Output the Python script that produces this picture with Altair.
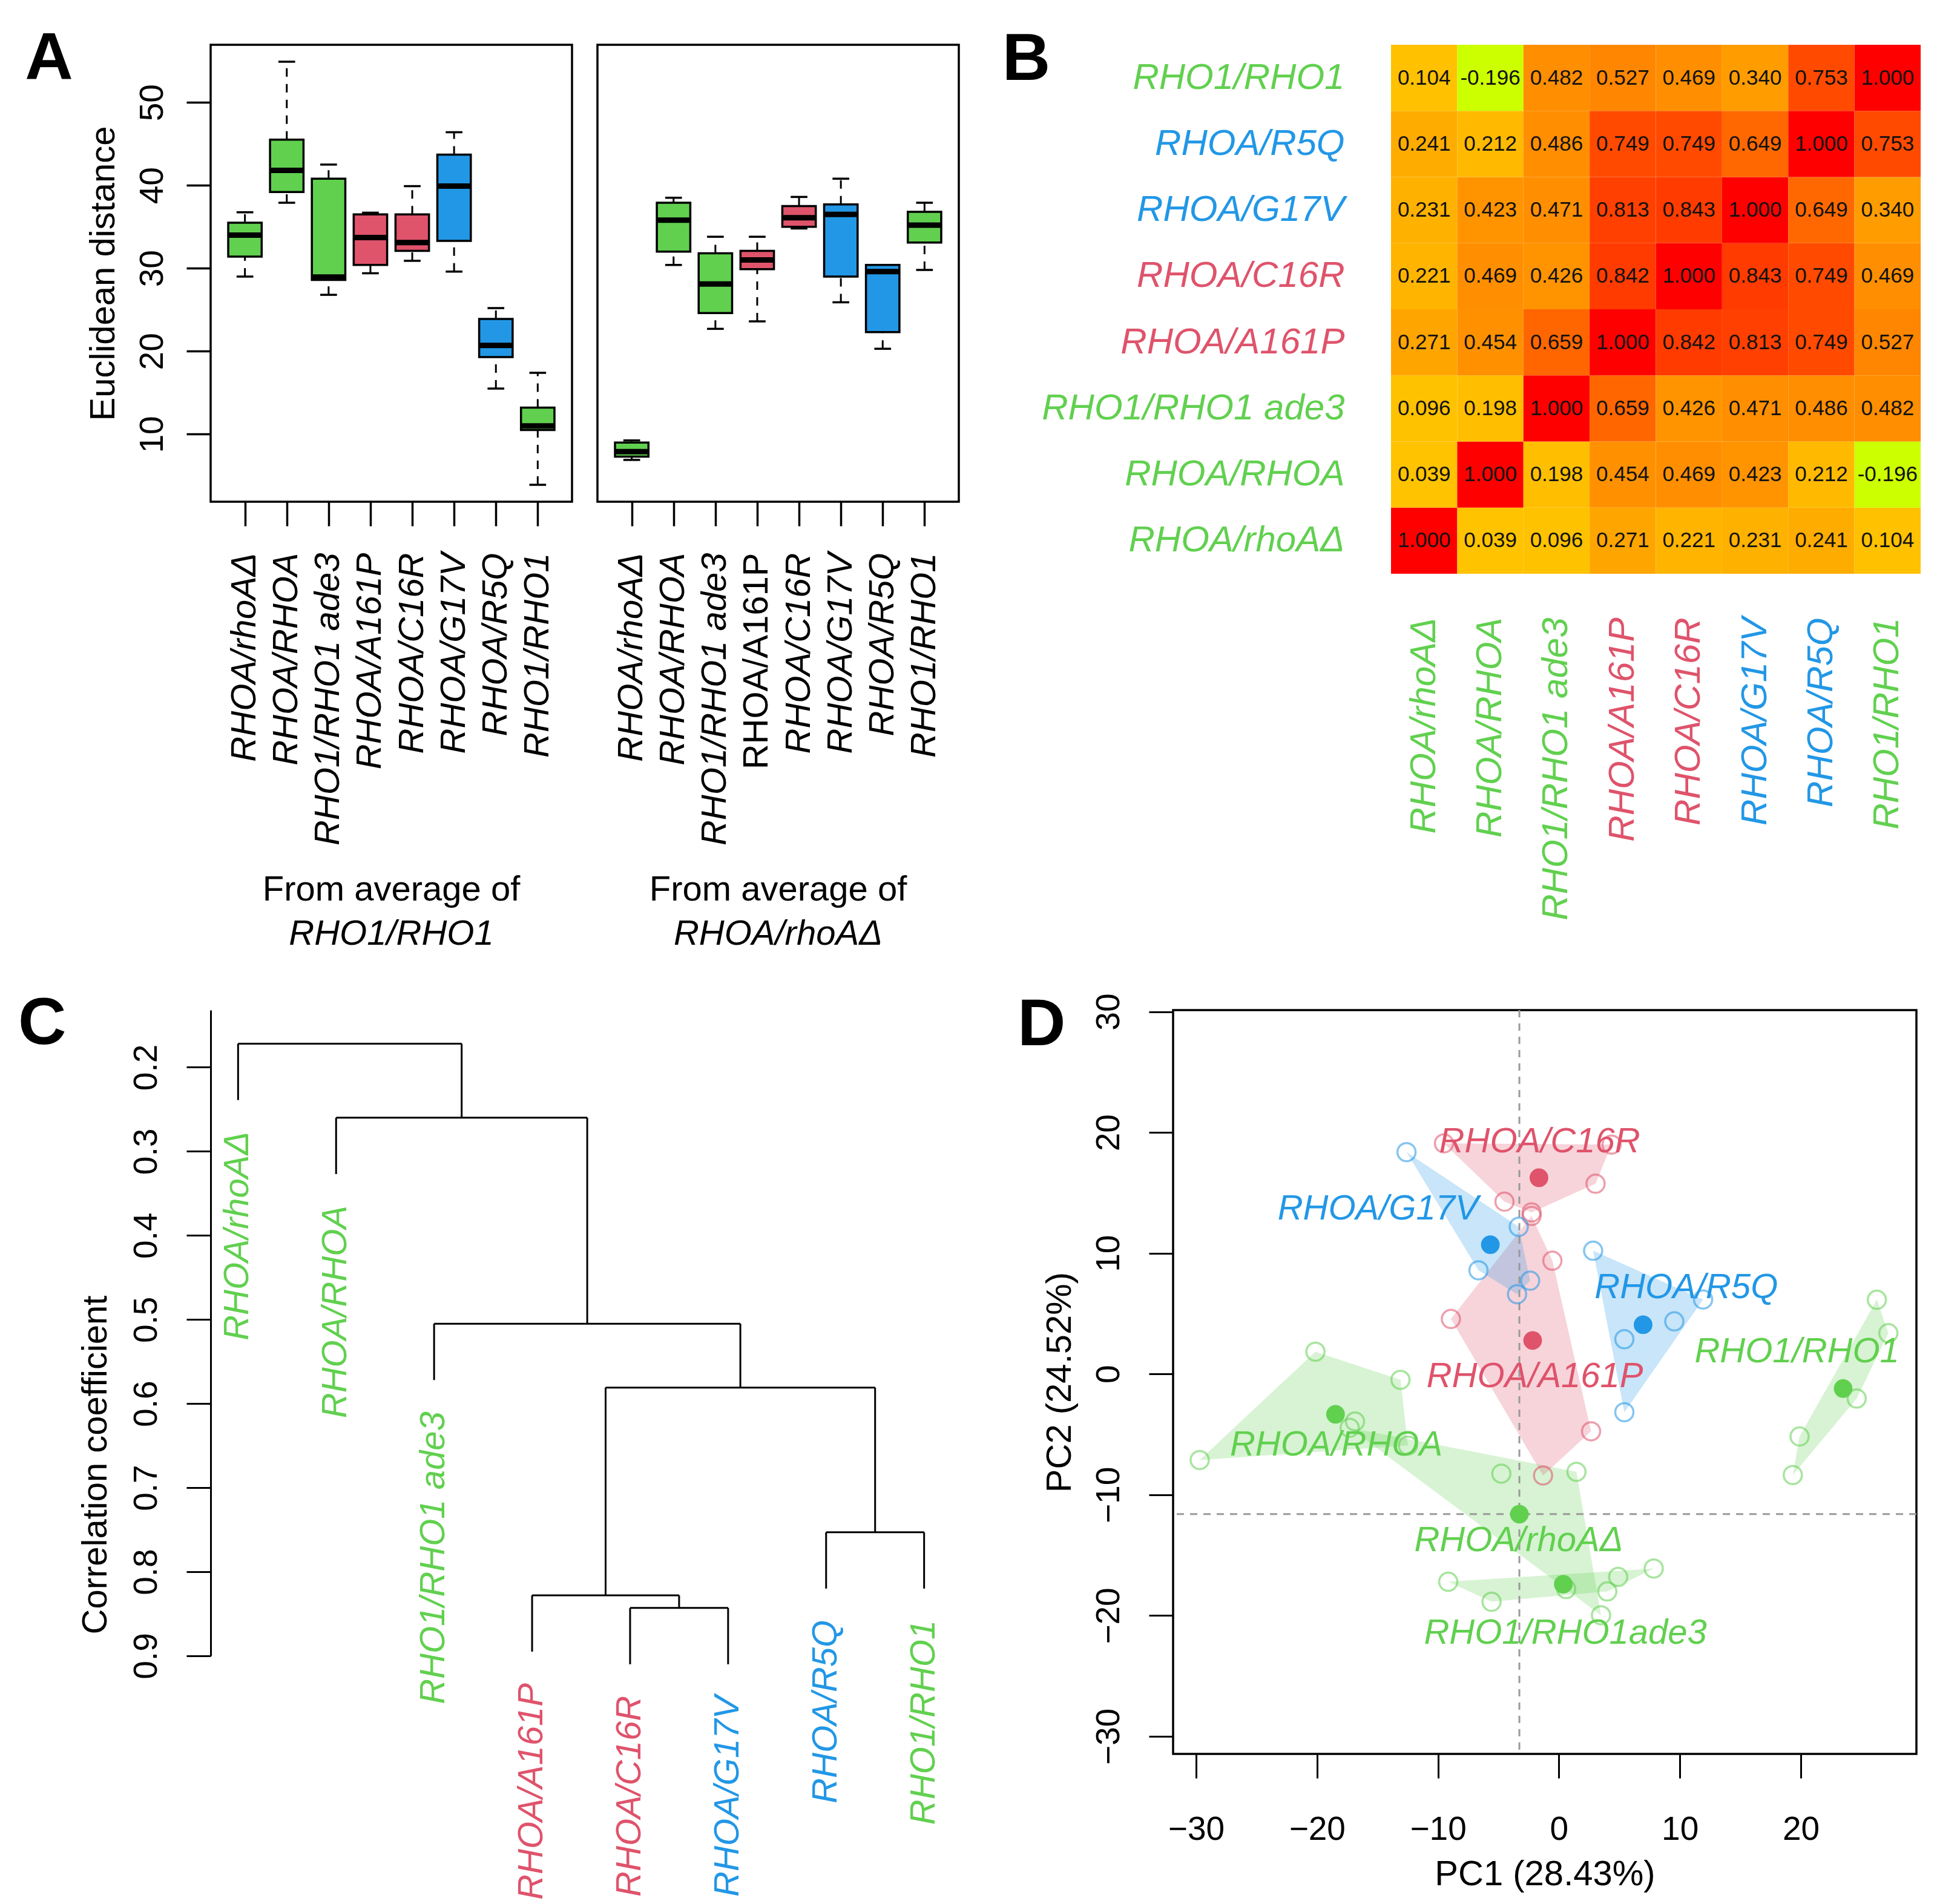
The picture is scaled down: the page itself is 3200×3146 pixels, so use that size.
import altair as alt
import pandas as pd

FONT = "Liberation Sans"
GREEN, RED, BLUE = "#61D04F", "#DF536B", "#2297E6"

# ---------------- shared categories ----------------
strains = ["RHOA/rhoAΔ", "RHOA/RHOA", "RHO1/RHO1 ade3", "RHOA/A161P",
           "RHOA/C16R", "RHOA/G17V", "RHOA/R5Q", "RHO1/RHO1"]
strain_class = ["g", "g", "g", "r", "r", "b", "b", "g"]
class_domain = ["g", "r", "b"]
class_range = [GREEN, RED, BLUE]
strain_colors = [GREEN, GREEN, GREEN, RED, RED, BLUE, BLUE, GREEN]
red_names = ["RHOA/A161P", "RHOA/C16R"]
blue_names = ["RHOA/G17V", "RHOA/R5Q"]

# ---------------- panel A : box statistics ----------------
a1_lo = [29.0, 37.9, 26.8, 29.4, 30.9, 29.6, 15.5, 3.9]
a1_q1 = [31.4, 39.2, 28.6, 30.4, 32.1, 33.3, 19.3, 10.5]
a1_med = [34.0, 41.8, 28.95, 33.7, 33.1, 39.9, 20.7, 11.0]
a1_q3 = [35.5, 45.5, 40.8, 36.5, 36.5, 43.7, 23.9, 13.2]
a1_hi = [36.75, 54.9, 42.5, 36.7, 39.9, 46.4, 25.2, 17.4]
a2_lo = [6.9, 30.4, 22.7, 23.6, 34.8, 25.9, 20.3, 29.8]
a2_q1 = [7.3, 32.0, 24.6, 29.9, 35.0, 29.0, 22.3, 33.1]
a2_med = [7.9, 35.8, 28.1, 31.0, 36.1, 36.5, 29.6, 35.2]
a2_q3 = [9.0, 37.9, 31.8, 32.1, 37.5, 37.7, 30.4, 36.8]
a2_hi = [9.25, 38.5, 33.8, 33.8, 38.6, 40.8, 30.4, 37.9]
a_ticks = [10, 20, 30, 40, 50]
a_domain = [1.86, 56.94]

# ---------------- panel B : correlation matrix ----------------
corr = [
    [1.000, 0.039, 0.096, 0.271, 0.221, 0.231, 0.241, 0.104],
    [0.039, 1.000, 0.198, 0.454, 0.469, 0.423, 0.212, -0.196],
    [0.096, 0.198, 1.000, 0.659, 0.426, 0.471, 0.486, 0.482],
    [0.271, 0.454, 0.659, 1.000, 0.842, 0.813, 0.749, 0.527],
    [0.221, 0.469, 0.426, 0.842, 1.000, 0.843, 0.749, 0.469],
    [0.231, 0.423, 0.471, 0.813, 0.843, 1.000, 0.649, 0.340],
    [0.241, 0.212, 0.486, 0.749, 0.749, 0.649, 1.000, 0.753],
    [0.104, -0.196, 0.482, 0.527, 0.469, 0.340, 0.753, 1.000],
]
hm_stops = [-0.196, 0.0, 0.2, 0.25, 0.35, 0.5, 0.65, 0.75, 0.85, 1.0]
hm_colors = ["#CCFF00", "#FFC400", "#FFBF00", "#FFA800", "#FF9C00", "#FF8C00",
             "#FF6800", "#FF4A00", "#FF3A00", "#FF0000"]

# ---------------- panel C : dendrogram ----------------
merge_left = ["L4", "L3", "L6", "M1", "L2", "L1", "L0"]
merge_right = ["L5", "M0", "L7", "M2", "M3", "M4", "M5"]
merge_height = [0.843, 0.828, 0.753, 0.581, 0.505, 0.260, 0.172]
leaf_hang = 0.067
c_ticks = [0.2, 0.3, 0.4, 0.5, 0.6, 0.7, 0.8, 0.9]

# ---------------- panel D : PCA ----------------
pca_grp = [0] * 5 + [1] * 5 + [2] * 5 + [3] * 5 + [4] * 5 + [5] * 5 + [6] * 5 + [7] * 5
pca_x = [-17.3, -4.76, 1.45, 3.48, 0.6,
         -20.13, -13.1, -12.48, -29.7, -16.86,
         -9.15, -5.57, 4.0, 4.9, 7.84,
         -2.26, -0.54, -8.93, 2.66, -1.31,
         -9.5, 4.35, 3.03, -2.26, -4.5,
         -12.6, -3.32, -6.65, -2.38, -3.46,
         2.83, 5.41, 5.41, 9.54, 11.92,
         26.29, 27.24, 24.62, 19.9, 19.34]
pca_y = [-4.45, -8.25, -8.1, -19.97, -17.8,
         1.85, -0.48, -5.92, -7.12, -3.93,
         -17.2, -18.85, -18.0, -16.8, -16.1,
         13.09, 9.38, 4.56, -4.74, -8.4,
         19.1, 19.0, 15.76, 13.38, 14.27,
         18.37, 12.19, 8.59, 7.73, 6.61,
         10.21, 2.88, -3.16, 4.36, 6.17,
         6.15, 3.38, -2.03, -5.17, -8.36]
cent_x = [-3.27, -18.47, 0.36, -2.17, -1.65, -5.67, 6.96, 23.5]
cent_y = [-11.6, -3.33, -17.4, 2.78, 16.25, 10.71, 4.08, -1.2]
lab_text = ["RHOA/rhoAΔ", "RHOA/RHOA", "RHO1/RHO1ade3", "RHOA/A161P",
            "RHOA/C16R", "RHOA/G17V", "RHOA/R5Q", "RHO1/RHO1"]
lab_x = [-3.32, -18.41, 0.54, -1.99, -1.59, -14.95, 10.53, 19.68]
lab_y = [-13.8, -5.92, -21.5, -0.23, 19.23, 13.64, 7.13, 1.8]
d_xticks = [-30, -20, -10, 0, 10, 20]
d_yticks = [-30, -20, -10, 0, 10, 20, 30]


def letter_title(letter, dx, dy):
    return alt.TitleParams(text=letter, anchor="start", frame="bounds", orient="top",
                           font=FONT, fontSize=110, fontWeight="bold", color="black",
                           baseline="top", offset=0, dx=dx, dy=dy)


# ================= panel A =================
label_expr = "[" + ",".join("'" + s + "'" for s in strains) + "][datum.value - 1]"


def box_panel(lo, q1, med, q3, hi, name, show_y, font_style):
    df = pd.DataFrame(dict(i=list(range(1, 9)), cls=strain_class, lo=lo, q1=q1,
                           med=med, q3=q3, hi=hi))
    xs = alt.Scale(domain=[0.18, 8.82], nice=False, zero=False)
    ys = alt.Scale(domain=a_domain, nice=False, zero=False)
    xax = alt.Axis(values=list(range(1, 9)), labelExpr=label_expr, labelAngle=270,
                   labelFontSize=58, labelFontStyle=font_style, labelPadding=44,
                   tickSize=40, tickWidth=3.5, domain=False, grid=False, title=None,
                   labelOverlap=False, labelFlush=False)
    if show_y:
        yax = alt.Axis(values=a_ticks, labelAngle=270, labelAlign="center",
                       labelBaseline="alphabetic", labelPadding=40, tickSize=40,
                       tickWidth=3.5, domain=False, grid=False, title="Euclidean distance",
                       titlePadding=24, labelFlush=False, labelOverlap=False)
    else:
        yax = None
    base = alt.Chart(df).transform_calculate(
        xl="datum.i - 0.4", xr="datum.i + 0.4", sl="datum.i - 0.2", sr="datum.i + 0.2")

    def X(f):
        return alt.X(f + ":Q", scale=xs, axis=xax)

    def Y(f):
        return alt.Y(f + ":Q", scale=ys, axis=yax)

    w_up = base.mark_rule(strokeWidth=3, strokeDash=[14, 12], color="black").encode(
        x=X("i"), y=Y("q3"), y2="hi:Q")
    w_dn = base.mark_rule(strokeWidth=3, strokeDash=[14, 12], color="black").encode(
        x=X("i"), y=Y("lo"), y2="q1:Q")
    c_up = base.mark_rule(strokeWidth=3.5, color="black").encode(
        x=X("sl"), x2="sr:Q", y=Y("hi"))
    c_dn = base.mark_rule(strokeWidth=3.5, color="black").encode(
        x=X("sl"), x2="sr:Q", y=Y("lo"))
    box = base.mark_bar(stroke="black", strokeWidth=3.5).encode(
        x=X("xl"), x2="xr:Q", y=Y("q1"), y2="q3:Q",
        color=alt.Color("cls:N", scale=alt.Scale(domain=class_domain, range=class_range),
                        legend=None))
    md = base.mark_rule(strokeWidth=9, color="black").encode(
        x=X("xl"), x2="xr:Q", y=Y("med"))
    return alt.layer(w_up, w_dn, c_up, c_dn, box, md).properties(
        width=597, height=755,
        view=alt.ViewBackground(stroke="black", strokeWidth=3.5),
        title=alt.TitleParams(text="From average of", subtitle=name, orient="bottom",
                              anchor="middle", frame="group", font=FONT, fontSize=58,
                              fontWeight="normal", color="black", baseline="top",
                              subtitleFont=FONT, subtitleFontSize=58,
                              subtitleFontStyle="italic", subtitleColor="black",
                              subtitlePadding=15, offset=45))


a_left = box_panel(a1_lo, a1_q1, a1_med, a1_q3, a1_hi, "RHO1/RHO1", True, "italic")
a_right = box_panel(a2_lo, a2_q1, a2_med, a2_q3, a2_hi, "RHOA/rhoAΔ", False,
                    {"condition": {"test": "datum.value == 4", "value": "normal"},
                     "value": "italic"})
panel_a = alt.hconcat(a_left, a_right, spacing=38, title=letter_title("A", -99, 81))

# ================= panel B =================
rows = []
for ri, r in enumerate(strains):
    for ci, c in enumerate(strains):
        v = corr[ri][ci]
        rows.append(dict(row=r, col=c, v=v, lab=f"{v:.3f}"))
hm_df = pd.DataFrame(rows)
reds_js = "[" + ",".join("'" + s + "'" for s in red_names) + "]"
blues_js = "[" + ",".join("'" + s + "'" for s in blue_names) + "]"
label_color = {"condition": {"test": f"indexof({reds_js}, datum.value) >= 0", "value": RED},
               "expr": f"indexof({blues_js}, datum.value) >= 0 ? '{BLUE}' : '{GREEN}'"}
xb = alt.X("col:N", sort=strains, scale=alt.Scale(paddingInner=0, paddingOuter=0),
           axis=alt.Axis(title=None, orient="bottom", labelAngle=270, labelFontSize=60,
                         labelFontStyle="italic", labelColor=label_color, labelPadding=72,
                         ticks=False, tickSize=0, domain=False, labelLimit=2000))
yb = alt.Y("row:N", sort=list(reversed(strains)),
           scale=alt.Scale(paddingInner=0, paddingOuter=0),
           axis=alt.Axis(title=None, labelFontSize=60, labelFontStyle="italic",
                         labelColor=label_color, labelPadding=77, ticks=False, tickSize=0,
                         domain=False, labelLimit=2000))
hm_rect = alt.Chart(hm_df).mark_rect().encode(
    x=xb, y=yb,
    color=alt.Color("v:Q", scale=alt.Scale(domain=hm_stops, range=hm_colors), legend=None))
hm_text = alt.Chart(hm_df).mark_text(font=FONT, fontSize=35, color="#111111").encode(
    x=xb, y=yb, text="lab:N")
panel_b = alt.layer(hm_rect, hm_text).properties(
    width=875, height=874,
    view=alt.ViewBackground(stroke="transparent"),
    title=letter_title("B", -65, 81))

# ================= panel C =================
node_x = {f"L{i}": i + 1 for i in range(8)}
node_h = {}
leaf_end = {}
segs = []
for k in range(len(merge_height)):
    a, b, h = merge_left[k], merge_right[k], merge_height[k]
    node_x[f"M{k}"] = (node_x[a] + node_x[b]) / 2
    node_h[f"M{k}"] = h
    segs.append(dict(x=node_x[a], x2=node_x[b], y=h, y2=h))
    for ch in (a, b):
        if ch.startswith("L"):
            bottom = h + leaf_hang
            leaf_end[ch] = bottom
        else:
            bottom = node_h[ch]
        segs.append(dict(x=node_x[ch], x2=node_x[ch], y=h, y2=bottom))
seg_df = pd.DataFrame(segs)
leaf_df = pd.DataFrame(dict(x=[i + 1 for i in range(8)],
                            y=[leaf_end[f"L{i}"] for i in range(8)],
                            name=strains))
xs_c = alt.Scale(domain=[0.72, 8.28], nice=False, zero=False)
ys_c = alt.Scale(domain=[0.132, 0.9], reverse=True, nice=False, zero=False)
yax_c = alt.Axis(values=c_ticks, format=".1f", labelAngle=270, labelAlign="center",
                 labelBaseline="alphabetic", labelPadding=50, tickSize=40, tickWidth=3,
                 domain=True, domainWidth=3, grid=False, title="Correlation coefficient",
                 titlePadding=24, titleAngle=270, titleAlign="center",
                 titleBaseline="alphabetic", titleX=-173, titleY=751,
                 labelFlush=False, labelOverlap=False)
dendro = alt.Chart(seg_df).mark_rule(strokeWidth=3, color="black").encode(
    x=alt.X("x:Q", scale=xs_c, axis=None), x2="x2:Q",
    y=alt.Y("y:Q", scale=ys_c, axis=yax_c), y2="y2:Q")
leaves = alt.Chart(leaf_df).mark_text(angle=270, align="right", baseline="middle", dx=-52,
                                      font=FONT, fontSize=58, fontStyle="italic").encode(
    x=alt.X("x:Q", scale=xs_c, axis=None),
    y=alt.Y("y:Q", scale=ys_c, axis=yax_c),
    text="name:N",
    color=alt.Color("name:N", scale=alt.Scale(domain=strains, range=strain_colors),
                    legend=None))
panel_c = alt.layer(dendro, leaves).properties(
    width=1224, height=1067,
    view=alt.ViewBackground(stroke="transparent"),
    title=letter_title("C", -99, 79))


# ================= panel D =================
def convex_hull(pts):
    pts = sorted(set(pts))
    if len(pts) <= 2:
        return pts

    def cross(o, a, b):
        return (a[0] - o[0]) * (b[1] - o[1]) - (a[1] - o[1]) * (b[0] - o[0])
    lower = []
    for p in pts:
        while len(lower) >= 2 and cross(lower[-2], lower[-1], p) <= 0:
            lower.pop()
        lower.append(p)
    upper = []
    for p in reversed(pts):
        while len(upper) >= 2 and cross(upper[-2], upper[-1], p) <= 0:
            upper.pop()
        upper.append(p)
    return lower[:-1] + upper[:-1]


pts_df = pd.DataFrame(dict(g=[strains[i] for i in pca_grp], x=pca_x, y=pca_y))
hull_rows = []
for gi, g in enumerate(strains):
    pts = [(x, y) for x, y, k in zip(pca_x, pca_y, pca_grp) if k == gi]
    for j, (x, y) in enumerate(convex_hull(pts)):
        hull_rows.append(dict(g=g, cls=strain_class[gi], x=x, y=y, k=j))
hull_df = pd.DataFrame(hull_rows)
cent_df = pd.DataFrame(dict(g=strains, x=cent_x, y=cent_y))
lab_df = pd.DataFrame(dict(g=strains, t=lab_text, x=lab_x, y=lab_y))
ref_df = pd.DataFrame(dict(x=[cent_x[0]], y=[cent_y[0]]))

xs_d = alt.Scale(domain=[-31.9, 29.56], nice=False, zero=False)
ys_d = alt.Scale(domain=[-31.45, 30.13], nice=False, zero=False)
xax_d = alt.Axis(values=d_xticks, tickSize=40, tickWidth=3, labelPadding=58, domain=False,
                 grid=False, title="PC1 (28.43%)", titlePadding=18, labelFlush=False,
                 labelOverlap=False)
yax_d = alt.Axis(values=d_yticks, labelAngle=270, labelAlign="center",
                 labelBaseline="alphabetic", labelPadding=50, tickSize=40, tickWidth=3,
                 domain=False, grid=False, title="PC2 (24.52%)", titlePadding=24,
                 labelFlush=False, labelOverlap=False)
XD = alt.X("x:Q", scale=xs_d, axis=xax_d)
YD = alt.Y("y:Q", scale=ys_d, axis=yax_d)
gcolor = alt.Color("g:N", scale=alt.Scale(domain=strains, range=strain_colors), legend=None)

hull_layers = []
for cls, col in zip(class_domain, class_range):
    hull_layers.append(
        alt.Chart(hull_df).transform_filter(f"datum.cls == '{cls}'").mark_line(
            interpolate="linear-closed", fill=col, fillOpacity=0.25, strokeOpacity=0
        ).encode(x=XD, y=YD, order="k:Q", detail="g:N"))
vline = alt.Chart(ref_df).mark_rule(color="#9a9a9a", strokeWidth=3,
                                    strokeDash=[12, 10]).encode(x=XD)
hline = alt.Chart(ref_df).mark_rule(color="#9a9a9a", strokeWidth=3,
                                    strokeDash=[12, 10]).encode(y=YD)
open_pts = alt.Chart(pts_df).mark_point(shape="circle", filled=False, size=900,
                                        strokeWidth=3.5, opacity=0.55).encode(
    x=XD, y=YD, color=gcolor)
cent_pts = alt.Chart(cent_df).mark_circle(size=950, opacity=1).encode(
    x=XD, y=YD, color=gcolor)
labels_d = alt.Chart(lab_df).mark_text(font=FONT, fontSize=58, fontStyle="italic",
                                       align="center", baseline="middle").encode(
    x=XD, y=YD, text="t:N", color=gcolor)
panel_d = alt.layer(*hull_layers, vline, hline, open_pts, cent_pts, labels_d).properties(
    width=1228, height=1229,
    view=alt.ViewBackground(stroke="black", strokeWidth=3.5),
    title=letter_title("D", -41, 109))

# ================= assemble =================
row1 = alt.hconcat(panel_a, panel_b, spacing=69)
row2 = alt.hconcat(panel_c, panel_d, spacing=106)
chart = alt.vconcat(row1, row2, spacing=61).properties(
    padding={"left": 21, "top": 34, "right": 10, "bottom": 10},
    background="white"
).configure(font=FONT).configure_axis(
    labelFont=FONT, titleFont=FONT, labelFontSize=55, titleFontSize=58,
    titleFontWeight="normal", labelColor="black", titleColor="black",
    tickColor="black", domainColor="black", labelLimit=2000
)

chart.save("out.html", embed_options={"renderer": "svg", "actions": False})
